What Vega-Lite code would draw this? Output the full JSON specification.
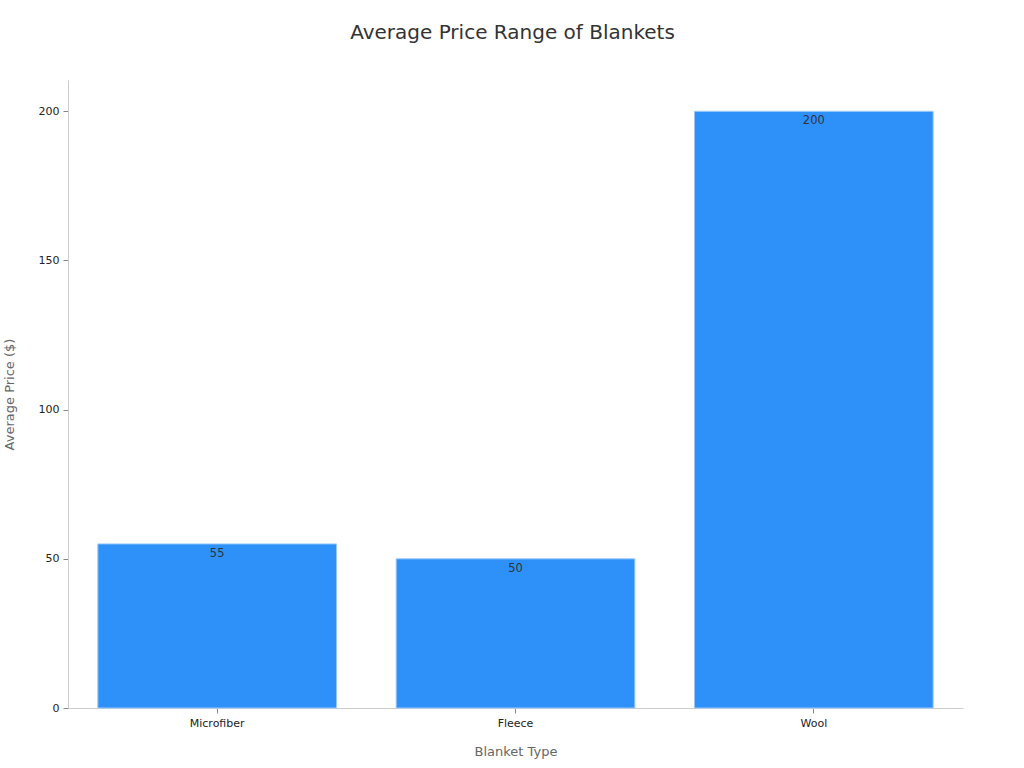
{
  "$schema": "https://vega.github.io/schema/vega-lite/v6.json",
  "autosize": "none",
  "width": 895,
  "height": 628,
  "padding": {"left": 68, "top": 80, "right": 61, "bottom": 60},
  "background": "white",
  "title": {
    "text": "Average Price Range of Blankets",
    "anchor": "middle",
    "fontSize": 20,
    "fontWeight": "normal",
    "font": "DejaVu Sans",
    "color": "#333333",
    "offset": 37,
    "dx": -3
  },
  "config": {
    "view": {"stroke": null},
    "font": "DejaVu Sans",
    "axis": {
      "grid": false,
      "domainColor": "#cccccc",
      "tickColor": "#888888",
      "labelColor": "#222222",
      "labelFontSize": 11,
      "titleColor": "#666666",
      "titleFontSize": 13,
      "titleFontWeight": "normal"
    }
  },
  "data": {
    "values": [
      {"type": "Microfiber", "price": 55},
      {"type": "Fleece", "price": 50},
      {"type": "Wool", "price": 200}
    ]
  },
  "encoding": {
    "x": {
      "field": "type",
      "type": "nominal",
      "sort": null,
      "title": "Blanket Type",
      "scale": {"paddingInner": 0.2, "paddingOuter": 0.1},
      "axis": {"labelAngle": 0, "labelPadding": 4, "titlePadding": 17, "tickSize": 5}
    },
    "y": {
      "field": "price",
      "type": "quantitative",
      "title": "Average Price ($)",
      "scale": {"domain": [0, 210.5], "nice": false},
      "axis": {"values": [0, 50, 100, 150, 200], "titlePadding": 22, "tickSize": 5, "labelPadding": 4}
    }
  },
  "layer": [
    {
      "mark": {"type": "bar", "color": "#2e91f9", "stroke": "#9cc9fb", "strokeWidth": 1}
    },
    {
      "mark": {"type": "text", "baseline": "top", "dy": 4, "fontSize": 11.5, "color": "#333333"},
      "encoding": {"text": {"field": "price", "type": "quantitative"}}
    }
  ]
}
